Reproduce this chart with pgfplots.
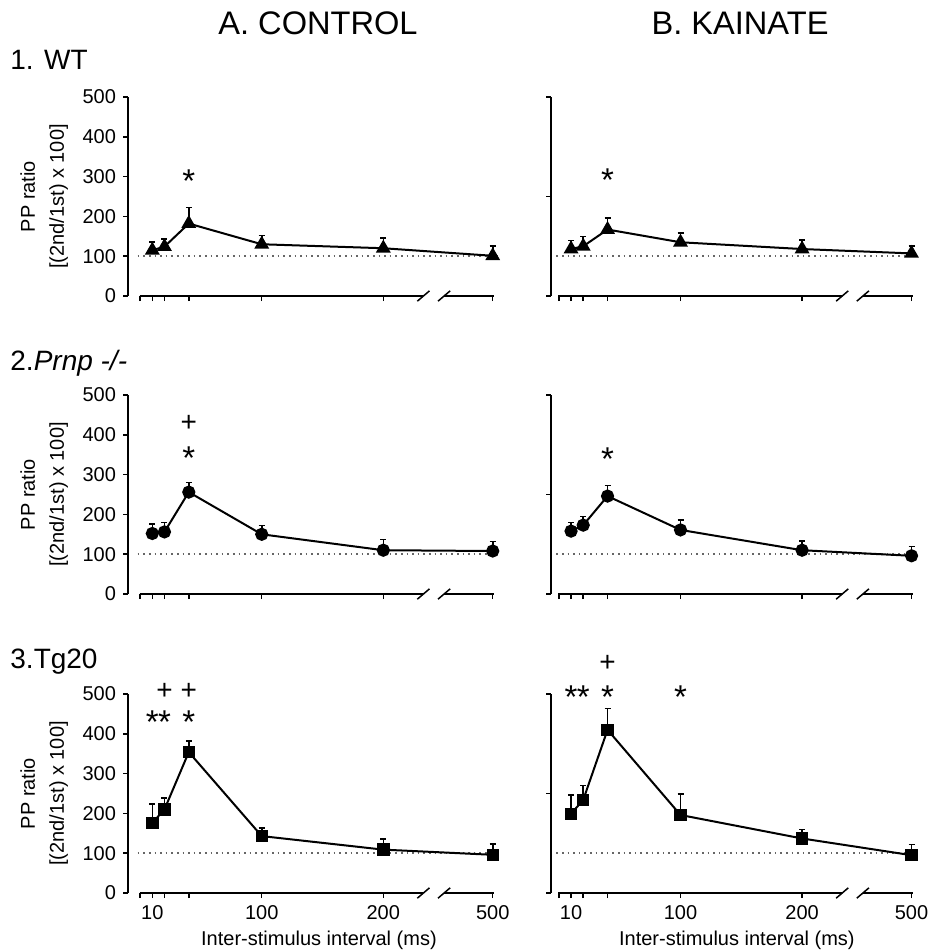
\documentclass[border=0pt]{standalone}
\usepackage{fontspec}
\setmainfont{Liberation Sans}
\usepackage{pgfplots}
\pgfplotsset{compat=1.18}

% common look of the six panels
\pgfplotsset{
  panel/.style={
    scale only axis, anchor=south west, height=99.5pt,
    ymin=0, ymax=500, xmax=295, clip=false,
    axis lines*=left, axis line style={-, line width=0.75pt},
    x axis line style={draw=none},
    tick align=outside, major tick length=2.5pt,
    tick style={line width=0.75pt, black},
    xtick={0,10,20,40,100,200,290}, xticklabels={},
    ticklabel style={font=\fontsize{10}{11}\selectfont},
    /pgf/number format/assume math mode=true,
    label style={font=\fontsize{10}{14.5}\selectfont},
  },
  leftpanel/.style={panel, xmin=-10, width=185.4pt,
    ytick={0,100,...,500},
    ylabel={PP ratio\\{[}(2nd/1st) x 100]},
    ylabel style={align=center, at={(axis description cs:-0.226,0.5)}, anchor=center},
  },
  rightpanel/.style={panel, xmin=-6.5, width=183.3pt,
    ytick={0,250,500}, yticklabels={},
  },
  bottomrow/.style={xticklabels={,10,,,100,200,500},
    xlabel={Inter-stimulus interval (ms)},
    xlabel style={at={(axis description cs:#1,-0.24)}, anchor=center},
  },
  series/.style={black, line width=1pt, mark=#1,
    mark options={solid, fill=black},
    error bars/y dir=plus, error bars/y explicit,
    error bars/error mark=|,
    error bars/error bar style={line width=0.8pt},
    error bars/error mark options={line width=0.8pt, mark size=1.5pt},
  },
}
\tikzset{
  sig/.style={anchor=base, yshift=-9.4pt, inner sep=0pt, font=\fontsize{16.5}{16.5}\selectfont},
  pls/.style={anchor=base, yshift=-4.9pt, inner sep=0pt, font=\fontsize{14}{14}\selectfont},
}
\newcommand{\brokenxaxis}{%
  \draw[line width=0.75pt] (axis cs:-0.5,0) -- (axis cs:233,0);
  \draw[line width=0.75pt] (axis cs:250,0) -- (axis cs:291,0);
  \draw[line width=0.75pt] (axis cs:228,-13) -- (axis cs:238,13);
  \draw[line width=0.75pt] (axis cs:245,-13) -- (axis cs:255,13);
  \addplot[dotted, black!60, line width=0.8pt, forget plot] coordinates {(-2,100) (296,100)};
}

\begin{document}
\begin{tikzpicture}
\useasboundingbox (0,0) rectangle (464pt,-476pt);

\node[anchor=base, font=\fontsize{16.3}{18}\selectfont] at (159pt,-17.5pt) {A. CONTROL};
\node[anchor=base, font=\fontsize{16.3}{18}\selectfont] at (370pt,-17.5pt) {B. KAINATE};
\node[anchor=base west, inner sep=0pt, font=\fontsize{14}{16}\selectfont] at (5pt,-35pt) {1. WT};
\node[anchor=base west, inner sep=0pt, font=\fontsize{14}{16}\selectfont] at (5pt,-185pt) {2.\textit{Prnp -/-}};
\node[anchor=base west, inner sep=0pt, font=\fontsize{14}{16}\selectfont] at (5pt,-334pt) {3.Tg20};

% 1. WT, control
\begin{axis}[leftpanel, at={(64pt,-148pt)}]
\brokenxaxis
\addplot+[mark size=3.3pt, series=triangle*] table[x=x, y=y, y error=e] {
x y e
10 115 20
20 124 19
40 182 40
100 130 22
200 120 25
290 101 24
};
\node[sig] at (axis cs:40,308) {*};
\end{axis}

% 1. WT, kainate
\begin{axis}[rightpanel, at={(275.5pt,-148pt)}]
\brokenxaxis
\addplot+[mark size=3.3pt, series=triangle*] table[x=x, y=y, y error=e] {
x y e
10 118 21
20 125 24
40 167 29
100 135 23
200 118 23
290 107 19
};
\node[sig] at (axis cs:40,309) {*};
\end{axis}

% 2. Prnp -/-, control
\begin{axis}[leftpanel, at={(64pt,-297pt)}]
\brokenxaxis
\addplot+[mark size=2.8pt, series=*] table[x=x, y=y, y error=e] {
x y e
10 152 24
20 156 24
40 256 24
100 150 22
200 110 27
290 108 24
};
\node[sig] at (axis cs:40,361) {*};
\node[pls] at (axis cs:40,432) {+};
\end{axis}

% 2. Prnp -/-, kainate
\begin{axis}[rightpanel, at={(275.5pt,-297pt)}]
\brokenxaxis
\addplot+[mark size=2.8pt, series=*] table[x=x, y=y, y error=e] {
x y e
10 158 22
20 173 22
40 246 27
100 161 25
200 110 23
290 96 23
};
\node[sig] at (axis cs:40,358) {*};
\end{axis}

% 3. Tg20, control
\begin{axis}[leftpanel, bottomrow=0.515, at={(64pt,-446.5pt)}]
\brokenxaxis
\addplot+[mark size=2.6pt, series=square*] table[x=x, y=y, y error=e] {
x y e
10 176 47
20 210 29
40 354 28
100 143 21
200 109 27
290 96 27
};
\node[sig] at (axis cs:10,449) {*};
\node[sig] at (axis cs:20,449) {*};
\node[sig] at (axis cs:40,449) {*};
\node[pls] at (axis cs:20,512) {+};
\node[pls] at (axis cs:40,512) {+};
\end{axis}

% 3. Tg20, kainate
\begin{axis}[rightpanel, bottomrow=0.507, at={(275.5pt,-446.5pt)}]
\brokenxaxis
\addplot+[mark size=2.6pt, series=square*] table[x=x, y=y, y error=e] {
x y e
10 199 48
20 234 36
40 410 54
100 196 53
200 137 23
290 95 27
};
\node[sig] at (axis cs:10,511) {*};
\node[sig] at (axis cs:20,511) {*};
\node[sig] at (axis cs:40,511) {*};
\node[sig] at (axis cs:100,511) {*};
\node[pls] at (axis cs:40,580) {+};
\end{axis}
\end{tikzpicture}
\end{document}
